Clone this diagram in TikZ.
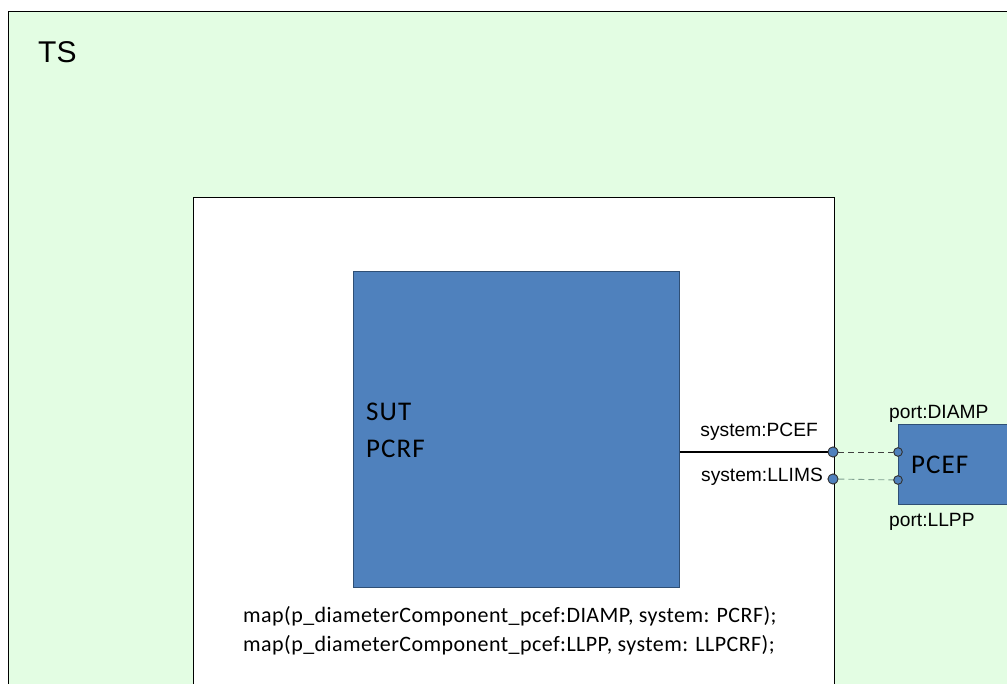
\documentclass[tikz,border=0pt]{standalone}
\usepackage{fontspec}
\setmainfont{Liberation Sans}
\newfontfamily\calibri[LetterSpace=4]{Carlito}
\newfontfamily\calibrimap[LetterSpace=2]{Carlito}
\definecolor{tsgreen}{HTML}{E3FDE3}
\definecolor{sutblue}{HTML}{4F81BD}
\definecolor{sutedge}{HTML}{2F4F75}
\definecolor{linkgreen}{HTML}{7F9F8F}
\tikzset{
  frame/.style   = {draw=black, line width=0.8pt, inner sep=0pt, anchor=north west},
  block/.style   = {draw=sutedge, fill=sutblue, line width=0.8pt, inner sep=0pt, anchor=north west},
  sysport/.style = {circle, draw=black!80, fill=sutblue, line width=0.8pt, inner sep=0pt, minimum size=10pt},
  pcefport/.style= {circle, draw=black!80, fill=sutblue, line width=0.8pt, inner sep=0pt, minimum size=8.5pt},
  lbl/.style     = {inner sep=0pt, font=\fontsize{19.2}{22}\selectfont},
  cal/.style     = {inner sep=0pt, anchor=base west, font=\calibri\fontsize{#1}{#1}\selectfont},
  maptext/.style = {inner sep=0pt, anchor=base west, font=\calibrimap\fontsize{22}{22}\selectfont}
}
\begin{document}
\begin{tikzpicture}[x=1pt, y=-1pt]
\useasboundingbox (0,0) rectangle (1007,684);
\clip (0,0) rectangle (1007,684);
\node[frame, fill=tsgreen, minimum width=1040pt, minimum height=720pt] (ts) at (8,11) {};
\node[inner sep=0pt, anchor=base west, font=\fontsize{30}{36}\selectfont] (tsname) at (38,63) {TS};
\node[frame, fill=white, minimum width=641pt, minimum height=540pt] (env) at (193,197) {};
% system under test
\node[block, minimum width=326pt, minimum height=316pt] (sut) at (353,271) {};
\node[cal=27] (sutname) at (366,421) {SUT};
\node[cal=27] (sutrole) at (366,457) {PCRF};
\node[maptext] (map1) at (243,622) {map(p\_diameterComponent\_pcef:DIAMP, system: PCRF);};
\node[maptext] (map2) at (243,651) {map(p\_diameterComponent\_pcef:LLPP, system: LLPCRF);};
% system ports
\node[sysport] (sysPCEF) at (833,452) {};
\node[sysport] (sysLLIMS) at (833,479) {};
\node[lbl, anchor=base east] (sysPCEFlbl) at (818,437) {system:PCEF};
\node[lbl, anchor=base east] (sysLLIMSlbl) at (823,482) {system:LLIMS};
% test component
\node[block, minimum width=140pt, minimum height=80pt] (pcef) at (898,424) {};
\node[cal=27] (pcefname) at (911,473) {PCEF};
\node[pcefport] (portDIAMP) at (898,452) {};
\node[pcefport] (portLLPP) at (898,480) {};
\node[lbl, anchor=base west] (portDIAMPlbl) at (889,419) {port:DIAMP};
\node[lbl, anchor=base west] (portLLPPlbl) at (889,526) {port:LLPP};
% connections
\draw[line width=1.6pt] (sut.east |- sysPCEF) -- (sysPCEF.west);
\draw[dashed, black!75, line width=0.9pt, dash pattern=on 6pt off 4pt] (sysPCEF) -- (portDIAMP);
\draw[dashed, linkgreen, line width=0.9pt, dash pattern=on 6pt off 4pt] (sysLLIMS) -- (portLLPP);
\node[sysport] at (sysPCEF) {};
\node[sysport] at (sysLLIMS) {};
\node[pcefport] at (portDIAMP) {};
\node[pcefport] at (portLLPP) {};
\end{tikzpicture}
\end{document}
